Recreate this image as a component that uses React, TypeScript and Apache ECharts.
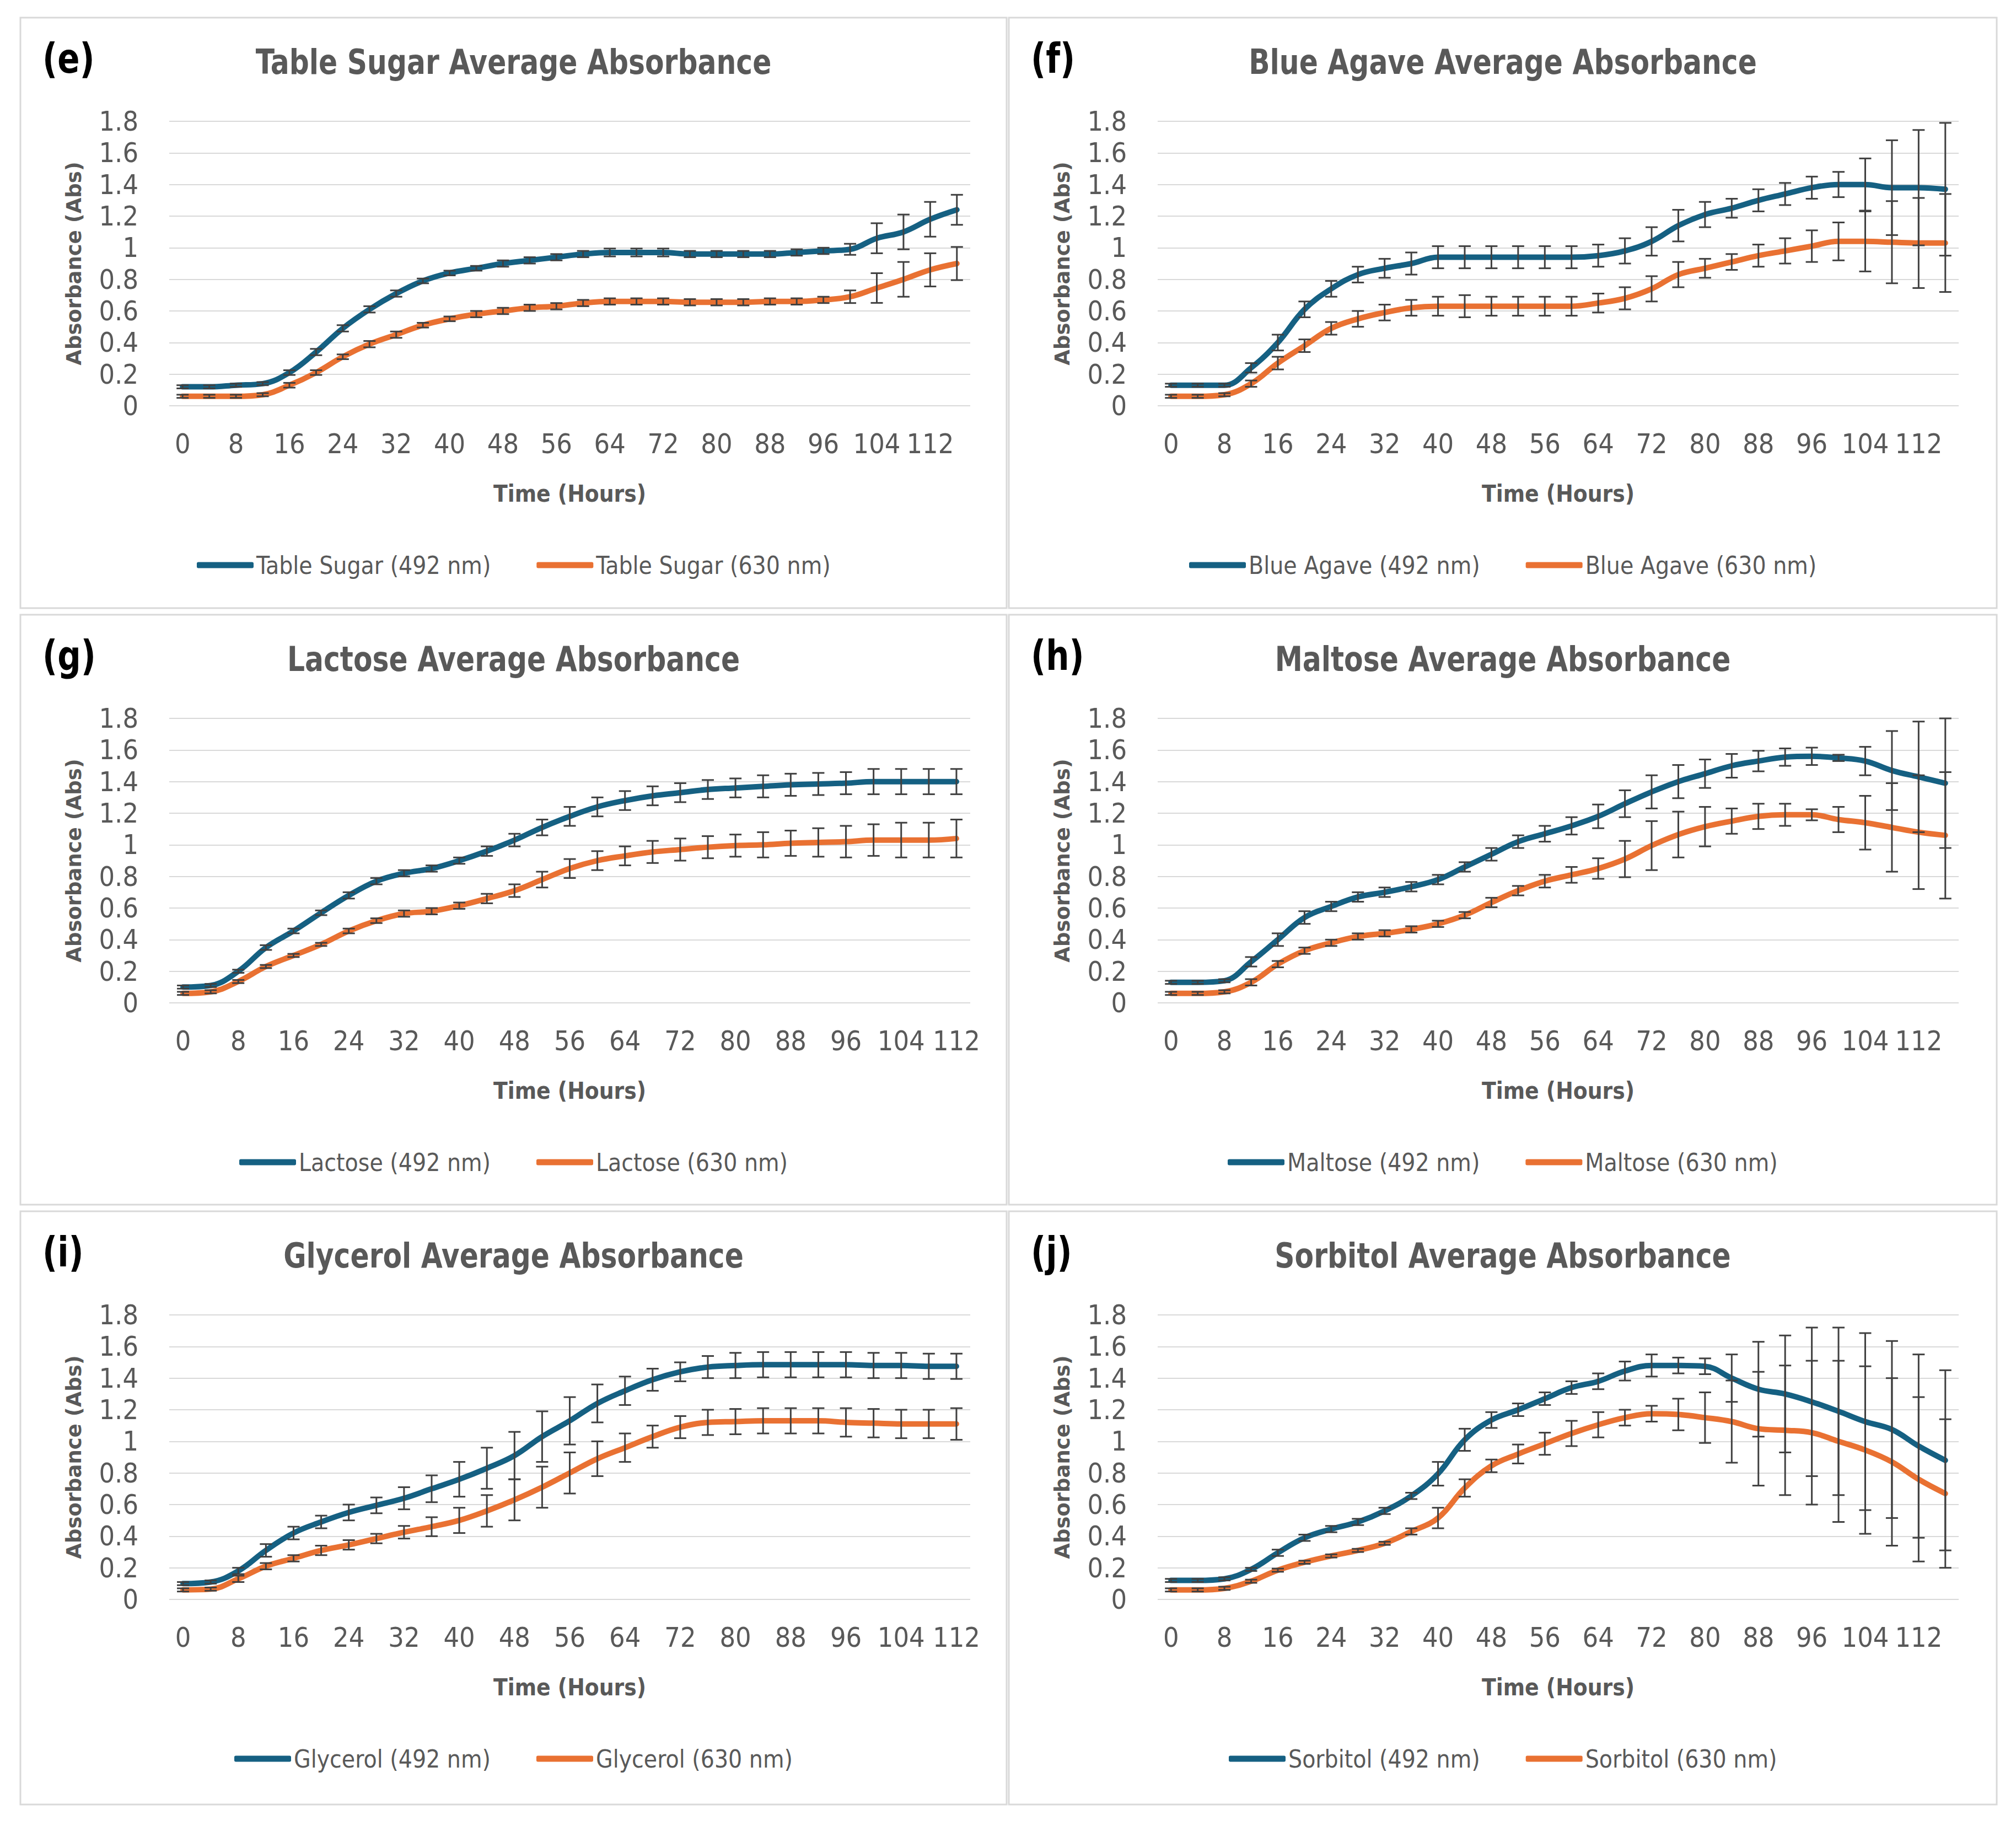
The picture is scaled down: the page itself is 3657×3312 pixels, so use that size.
import React, { useEffect, useRef } from 'react';
import * as echarts from 'echarts';

// ---------- categories ----------
const HOURS_116 = ['0','4','8','12','16','20','24','28','32','36','40','44','48','52','56','60','64','68','72','76','80','84','88','92','96','100','104','108','112','116'];
const HOURS_112 = ['0','4','8','12','16','20','24','28','32','36','40','44','48','52','56','60','64','68','72','76','80','84','88','92','96','100','104','108','112'];

// ---------- (e) Table Sugar ----------
const TS_492 = [0.12,0.12,0.13,0.14,0.21,0.34,0.49,0.61,0.71,0.79,0.84,0.87,0.90,0.92,0.94,0.96,0.97,0.97,0.97,0.96,0.96,0.96,0.96,0.97,0.98,0.99,1.06,1.10,1.18,1.24];
const TS_492_ERR = [0.01,0.01,0.01,0.01,0.015,0.02,0.02,0.02,0.02,0.015,0.015,0.015,0.02,0.02,0.02,0.02,0.025,0.025,0.025,0.02,0.02,0.02,0.02,0.02,0.02,0.035,0.095,0.11,0.11,0.095];
const TS_630 = [0.06,0.06,0.06,0.07,0.13,0.21,0.31,0.39,0.45,0.51,0.55,0.58,0.60,0.62,0.63,0.65,0.66,0.66,0.66,0.655,0.655,0.655,0.66,0.66,0.67,0.69,0.745,0.80,0.86,0.90];
const TS_630_ERR = [0.01,0.01,0.01,0.01,0.015,0.015,0.015,0.02,0.02,0.015,0.015,0.02,0.02,0.02,0.02,0.02,0.02,0.02,0.02,0.02,0.02,0.02,0.02,0.02,0.02,0.04,0.094,0.11,0.105,0.105];

// ---------- (f) Blue Agave ----------
const BA_492 = [0.13,0.13,0.13,0.24,0.40,0.61,0.74,0.83,0.87,0.90,0.94,0.94,0.94,0.94,0.94,0.94,0.95,0.98,1.04,1.14,1.21,1.25,1.30,1.34,1.38,1.40,1.40,1.38,1.38,1.37];
const BA_492_ERR = [0.01,0.01,0.01,0.03,0.05,0.05,0.05,0.05,0.06,0.07,0.07,0.07,0.07,0.07,0.07,0.07,0.07,0.08,0.09,0.10,0.08,0.06,0.07,0.07,0.07,0.08,0.165,0.30,0.365,0.42];
const BA_630 = [0.06,0.06,0.07,0.14,0.27,0.38,0.49,0.55,0.59,0.62,0.63,0.63,0.63,0.63,0.63,0.63,0.65,0.68,0.74,0.83,0.87,0.91,0.95,0.98,1.01,1.04,1.04,1.035,1.03,1.03];
const BA_630_ERR = [0.01,0.01,0.01,0.02,0.04,0.04,0.04,0.05,0.05,0.05,0.06,0.07,0.06,0.06,0.06,0.06,0.06,0.07,0.08,0.08,0.06,0.05,0.07,0.08,0.10,0.12,0.19,0.26,0.285,0.31];

// ---------- (g) Lactose ----------
const LA_492 = [0.10,0.11,0.20,0.35,0.455,0.57,0.68,0.77,0.82,0.85,0.90,0.96,1.03,1.11,1.18,1.24,1.28,1.31,1.33,1.35,1.36,1.37,1.38,1.385,1.39,1.40,1.40,1.40,1.40];
const LA_492_ERR = [0.01,0.01,0.01,0.015,0.015,0.015,0.02,0.02,0.02,0.02,0.02,0.03,0.04,0.05,0.06,0.06,0.06,0.06,0.06,0.06,0.06,0.07,0.07,0.07,0.07,0.08,0.08,0.08,0.08];
const LA_630 = [0.06,0.07,0.135,0.23,0.30,0.37,0.455,0.52,0.565,0.58,0.615,0.66,0.71,0.78,0.85,0.90,0.93,0.955,0.97,0.985,0.995,1.00,1.01,1.015,1.02,1.03,1.03,1.03,1.04];
const LA_630_ERR = [0.01,0.01,0.01,0.01,0.01,0.01,0.015,0.015,0.02,0.02,0.02,0.03,0.04,0.05,0.06,0.06,0.06,0.07,0.07,0.07,0.07,0.08,0.08,0.09,0.10,0.10,0.11,0.11,0.12];

// ---------- (h) Maltose ----------
const MA_492 = [0.13,0.13,0.14,0.26,0.40,0.54,0.61,0.67,0.70,0.735,0.78,0.86,0.94,1.02,1.07,1.12,1.18,1.26,1.335,1.40,1.45,1.50,1.53,1.555,1.56,1.55,1.53,1.47,1.43,1.39];
const MA_492_ERR = [0.01,0.01,0.01,0.03,0.04,0.04,0.03,0.03,0.03,0.03,0.03,0.03,0.04,0.04,0.05,0.055,0.075,0.085,0.105,0.105,0.09,0.075,0.065,0.055,0.055,0.02,0.09,0.25,0.35,0.41];
const MA_630 = [0.06,0.06,0.07,0.13,0.245,0.33,0.38,0.42,0.44,0.465,0.50,0.555,0.635,0.71,0.77,0.81,0.85,0.91,0.995,1.065,1.115,1.15,1.18,1.19,1.19,1.16,1.14,1.11,1.08,1.06];
const MA_630_ERR = [0.01,0.01,0.01,0.02,0.02,0.02,0.02,0.02,0.02,0.02,0.02,0.02,0.03,0.03,0.04,0.05,0.065,0.115,0.155,0.145,0.125,0.08,0.08,0.07,0.035,0.08,0.17,0.28,0.36,0.40];

// ---------- (i) Glycerol ----------
const GL_492 = [0.10,0.11,0.18,0.31,0.42,0.49,0.55,0.595,0.64,0.70,0.76,0.83,0.91,1.03,1.13,1.24,1.32,1.39,1.44,1.47,1.48,1.485,1.485,1.485,1.485,1.48,1.48,1.475,1.475];
const GL_492_ERR = [0.01,0.01,0.02,0.04,0.04,0.04,0.05,0.05,0.07,0.085,0.11,0.13,0.15,0.16,0.15,0.12,0.09,0.07,0.06,0.07,0.08,0.08,0.08,0.08,0.08,0.08,0.08,0.08,0.08];
const GL_630 = [0.06,0.065,0.13,0.21,0.26,0.31,0.345,0.385,0.425,0.46,0.50,0.56,0.63,0.71,0.80,0.89,0.96,1.03,1.09,1.12,1.125,1.13,1.13,1.13,1.12,1.115,1.11,1.11,1.11];
const GL_630_ERR = [0.01,0.01,0.02,0.02,0.02,0.03,0.03,0.03,0.04,0.06,0.08,0.10,0.13,0.13,0.13,0.11,0.09,0.07,0.07,0.08,0.08,0.08,0.08,0.08,0.09,0.09,0.09,0.09,0.10];

// ---------- (j) Sorbitol ----------
const SO_492 = [0.12,0.12,0.13,0.19,0.295,0.39,0.445,0.49,0.56,0.655,0.795,1.01,1.135,1.20,1.27,1.34,1.38,1.445,1.48,1.48,1.475,1.40,1.33,1.30,1.25,1.19,1.125,1.075,0.97,0.88];
const SO_492_ERR = [0.01,0.01,0.01,0.01,0.02,0.02,0.02,0.02,0.02,0.02,0.075,0.07,0.05,0.04,0.04,0.04,0.05,0.06,0.07,0.05,0.05,0.15,0.30,0.37,0.47,0.53,0.56,0.56,0.58,0.57];
const SO_630 = [0.06,0.06,0.07,0.115,0.185,0.235,0.275,0.31,0.355,0.43,0.515,0.705,0.845,0.92,0.985,1.05,1.105,1.15,1.175,1.17,1.15,1.125,1.08,1.07,1.055,1.00,0.945,0.87,0.76,0.67];
const SO_630_ERR = [0.01,0.01,0.01,0.01,0.01,0.01,0.01,0.01,0.01,0.02,0.065,0.055,0.04,0.06,0.07,0.08,0.08,0.05,0.05,0.10,0.16,0.26,0.36,0.41,0.455,0.51,0.53,0.53,0.52,0.47];

const PANELS = [
  { tag: '(e)', title: 'Table Sugar Average Absorbance', name: 'Table Sugar', hours: HOURS_116, v492: TS_492, e492: TS_492_ERR, v630: TS_630, e630: TS_630_ERR },
  { tag: '(f)', title: 'Blue Agave Average Absorbance', name: 'Blue Agave', hours: HOURS_116, v492: BA_492, e492: BA_492_ERR, v630: BA_630, e630: BA_630_ERR },
  { tag: '(g)', title: 'Lactose Average Absorbance', name: 'Lactose', hours: HOURS_112, v492: LA_492, e492: LA_492_ERR, v630: LA_630, e630: LA_630_ERR },
  { tag: '(h)', title: 'Maltose Average Absorbance', name: 'Maltose', hours: HOURS_116, v492: MA_492, e492: MA_492_ERR, v630: MA_630, e630: MA_630_ERR },
  { tag: '(i)', title: 'Glycerol Average Absorbance', name: 'Glycerol', hours: HOURS_112, v492: GL_492, e492: GL_492_ERR, v630: GL_630, e630: GL_630_ERR },
  { tag: '(j)', title: 'Sorbitol Average Absorbance', name: 'Sorbitol', hours: HOURS_116, v492: SO_492, e492: SO_492_ERR, v630: SO_630, e630: SO_630_ERR },
];

// ---------- styling / layout ----------
const BLUE = '#156082';
const ORANGE = '#E97132';
const TEXT_GRAY = '#595959';
const GRID_GRAY = '#d9d9d9';
const ERR_COLOR = '#404040';
const NARROW = "'Liberation Sans Narrow', 'DejaVu Sans Condensed', 'Roboto Condensed', Roboto, sans-serif";
const WIDE = "'DejaVu Sans', Verdana, sans-serif";

const W = 3657;
const H = 3312;
const COL_X = [37, 1830];
const COL_W = [1789, 1792];
const ROW_Y = [32, 1115, 2197];
const ROW_H = [1071, 1070, 1076];

const LEGEND_FONT = 44;
const LEGEND_ICON_W = 103;
const LEGEND_GAP = 83;

function measure(text: string, font: string): number {
  const c = document.createElement('canvas');
  const ctx = c.getContext('2d');
  if (!ctx) return text.length * 20;
  ctx.font = font;
  return ctx.measureText(text).width;
}

function errorBarRenderer(params: any, api: any) {
  const x = api.value(0);
  const v = api.value(1);
  const e = api.value(2);
  const top = api.coord([x, v + e]);
  const bot = api.coord([x, v - e]);
  const hw = 11;
  const st = { stroke: ERR_COLOR, lineWidth: 3 };
  return {
    type: 'group',
    children: [
      { type: 'line', shape: { x1: top[0], y1: top[1], x2: bot[0], y2: bot[1] }, style: st },
      { type: 'line', shape: { x1: top[0] - hw, y1: top[1], x2: top[0] + hw, y2: top[1] }, style: st },
      { type: 'line', shape: { x1: bot[0] - hw, y1: bot[1], x2: bot[0] + hw, y2: bot[1] }, style: st },
    ],
  };
}

function buildOption() {
  const grid: any[] = [];
  const xAxis: any[] = [];
  const yAxis: any[] = [];
  const series: any[] = [];
  const legend: any[] = [];
  const graphic: any[] = [];

  PANELS.forEach((p, k) => {
    const col = k % 2;
    const row = Math.floor(k / 2);
    const px = COL_X[col];
    const py = ROW_Y[row];
    const pw = COL_W[col];
    const ph = ROW_H[row];
    const cx = px + pw / 2;

    graphic.push({
      type: 'rect',
      shape: { x: px, y: py, width: pw, height: ph },
      style: { fill: 'none', stroke: GRID_GRAY, lineWidth: 3 },
      silent: true,
    });
    graphic.push({
      type: 'text',
      x: px + 40,
      y: py + 75,
      scaleY: 1.12,
      style: {
        text: p.tag, fill: '#000', fontSize: 66, fontWeight: 'bold', fontFamily: NARROW,
        align: 'left', verticalAlign: 'middle', textAlign: 'left', textVerticalAlign: 'middle',
      },
      silent: true,
    });
    graphic.push({
      type: 'text',
      x: cx,
      y: py + 80,
      scaleY: 1.12,
      style: {
        text: p.title, fill: TEXT_GRAY, fontSize: 56, fontWeight: 'bold', fontFamily: NARROW,
        align: 'center', verticalAlign: 'middle', textAlign: 'center', textVerticalAlign: 'middle',
      },
      silent: true,
    });

    grid.push({ left: px + 270, top: py + 188, width: 1453, height: 516 });

    xAxis.push({
      type: 'category',
      gridIndex: k,
      data: p.hours,
      boundaryGap: true,
      axisLine: { show: false },
      axisTick: { show: false },
      axisLabel: { interval: 1, fontSize: 50, color: TEXT_GRAY, fontFamily: NARROW, margin: 44 },
      name: 'Time (Hours)',
      nameLocation: 'middle',
      nameGap: 138,
      nameTextStyle: { fontSize: 42, fontWeight: 'bold', color: TEXT_GRAY, fontFamily: NARROW },
    });
    yAxis.push({
      type: 'value',
      gridIndex: k,
      min: 0,
      max: 1.8,
      interval: 0.2,
      axisLine: { show: false },
      axisTick: { show: false },
      axisLabel: {
        fontSize: 50, color: TEXT_GRAY, fontFamily: NARROW, margin: 56,
        formatter: (v: number) => String(Math.round(v * 10) / 10),
      },
      splitLine: { lineStyle: { color: GRID_GRAY, width: 2 } },
      name: 'Absorbance (Abs)',
      nameLocation: 'middle',
      nameGap: 154,
      nameTextStyle: { fontSize: 37, fontWeight: 'bold', color: TEXT_GRAY, fontFamily: WIDE },
    });

    const n492 = `${p.name} (492 nm)`;
    const n630 = `${p.name} (630 nm)`;
    [[n492, p.v492, BLUE], [n630, p.v630, ORANGE]].forEach(([name, data, color]: any) => {
      series.push({
        type: 'line',
        name,
        xAxisIndex: k,
        yAxisIndex: k,
        data,
        smooth: 0.4,
        symbol: 'none',
        color,
        lineStyle: { width: 10, color, cap: 'round', join: 'round' },
        itemStyle: { color },
        z: 2,
      });
    });
    [[p.v492, p.e492], [p.v630, p.e630]].forEach(([vals, errs]: any) => {
      series.push({
        type: 'custom',
        xAxisIndex: k,
        yAxisIndex: k,
        data: vals.map((v: number, i: number) => [i, v, errs[i]]),
        encode: { x: 0, y: 1 },
        renderItem: errorBarRenderer,
        silent: true,
        z: 5,
      });
    });

    const font = `${LEGEND_FONT}px ${NARROW}`;
    const total = LEGEND_ICON_W * 2 + 10 + measure(n492, font) + measure(n630, font) + LEGEND_GAP;
    legend.push({
      data: [n492, n630],
      left: Math.round(cx - total / 2),
      top: py + 997 - 26,
      padding: 0,
      itemWidth: LEGEND_ICON_W,
      itemHeight: 11,
      itemGap: LEGEND_GAP,
      icon: 'roundRect',
      selectedMode: false,
      textStyle: { fontSize: LEGEND_FONT, color: TEXT_GRAY, fontFamily: NARROW },
    });
  });

  return {
    animation: false,
    backgroundColor: '#ffffff',
    grid,
    xAxis,
    yAxis,
    series,
    legend,
    graphic,
  };
}

export default function App() {
  const ref = useRef<HTMLDivElement>(null);
  useEffect(() => {
    if (!ref.current) return;
    const chart = echarts.init(ref.current, undefined, { renderer: 'svg' });
    chart.setOption(buildOption() as any);
    return () => chart.dispose();
  }, []);
  return (
    <div
      ref={ref}
      style={{ position: 'absolute', left: 0, top: 0, width: W, height: H, background: '#fff' }}
    />
  );
}
